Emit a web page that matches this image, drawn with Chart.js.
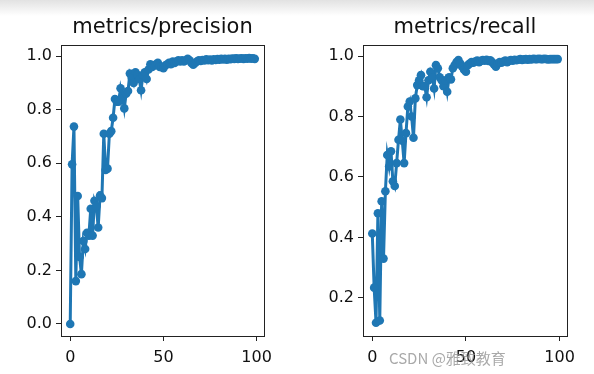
<!DOCTYPE html>
<html>
<head>
<meta charset="utf-8">
<script src="https://cdn.jsdelivr.net/npm/chart.js@4"></script>
<style>
  body { margin: 0; width: 594px; height: 374px; background: #fff; position: relative; overflow: hidden; }
  .shade { position: absolute; left: 0; top: 0; width: 594px; height: 16px; background: linear-gradient(#e2e2e2, #fff); }
  .box { position: absolute; top: 0; height: 374px; }
  .wm { position: absolute; left: 389px; top: 347px; font: 15px "Noto Sans CJK SC", sans-serif; color: rgba(140,140,140,0.75); white-space: nowrap; }
</style>
</head>
<body>
<div class="shade"></div>
<div class="box" style="left:0;width:297px"><canvas id="precChart"></canvas></div>
<div class="box" style="left:297px;width:297px"><canvas id="recChart"></canvas></div>
<span class="wm">CSDN @雅致教育</span>

<script>
// --- data ---
const epochs = Array.from({ length: 100 }, (_, i) => i);

const precision = [
  0.0, 0.596, 0.737, 0.16, 0.478, 0.25, 0.186, 0.31, 0.28, 0.34,
  0.33, 0.43, 0.33, 0.46, 0.44, 0.36, 0.48, 0.47, 0.71, 0.575,
  0.58, 0.71, 0.72, 0.77, 0.84, 0.83, 0.83, 0.88, 0.85, 0.805,
  0.86, 0.87, 0.935, 0.92, 0.9, 0.94, 0.93, 0.915, 0.873, 0.93,
  0.94, 0.915, 0.95, 0.97, 0.96, 0.965, 0.97, 0.975, 0.96, 0.96,
  0.955, 0.965, 0.97, 0.975, 0.97, 0.98, 0.975, 0.98, 0.985, 0.98,
  0.985, 0.98, 0.985, 0.99, 0.985, 0.975, 0.968, 0.975, 0.98, 0.985,
  0.982, 0.986, 0.984, 0.988, 0.985, 0.987, 0.984, 0.988, 0.986, 0.989,
  0.987, 0.99, 0.988, 0.99, 0.987, 0.99, 0.989, 0.991, 0.99, 0.992,
  0.99, 0.991, 0.992, 0.99, 0.992, 0.991, 0.993, 0.991, 0.992, 0.99
];

const recall = [
  0.413, 0.234, 0.118, 0.48, 0.125, 0.52, 0.33, 0.553, 0.673, 0.635,
  0.685, 0.586, 0.57, 0.646, 0.723, 0.79, 0.72, 0.646, 0.745, 0.833,
  0.85, 0.8, 0.73, 0.86, 0.904, 0.92, 0.937, 0.9, 0.9, 0.864,
  0.92, 0.948, 0.93, 0.893, 0.97, 0.96, 0.93, 0.92, 0.9, 0.92,
  0.882, 0.93, 0.923, 0.96, 0.97, 0.98, 0.987, 0.975, 0.965, 0.955,
  0.948, 0.97, 0.975, 0.98, 0.978, 0.982, 0.985, 0.98, 0.984, 0.987,
  0.985, 0.988, 0.984, 0.986, 0.98, 0.972, 0.965, 0.975, 0.98, 0.978,
  0.982, 0.985, 0.98, 0.984, 0.987, 0.985, 0.988, 0.986, 0.988, 0.99,
  0.987, 0.989, 0.99, 0.988, 0.99, 0.989, 0.991, 0.99, 0.99, 0.991,
  0.99, 0.99, 0.991, 0.99, 0.989, 0.99, 0.99, 0.99, 0.99, 0.99
];

const xTicks = [0, 50, 100];
const precTicks = [0.0, 0.2, 0.4, 0.6, 0.8, 1.0];
const recTicks = [0.2, 0.4, 0.6, 0.8, 1.0];

const blue = '#1f77b4';
const font = 'DejaVu Sans';

// frame around the plot area (matplotlib style)
const frame = {
  id: 'frame',
  afterDraw(chart) {
    const { ctx, chartArea: a } = chart;
    ctx.save();
    ctx.strokeStyle = '#222';
    ctx.lineWidth = 1;
    ctx.strokeRect(Math.round(a.left) + 0.5, Math.round(a.top) + 0.5, Math.round(a.right - a.left), Math.round(a.bottom - a.top));
    ctx.restore();
  }
};

function makeChart(id, title, values, yTicks, yMin, yMax, yWidth, padRight) {
  const ctx = document.getElementById(id).getContext('2d');
  return new Chart(ctx, {
    type: 'line',
    data: {
      datasets: [{
        data: epochs.map((e, i) => ({ x: e, y: values[i] })),
        borderColor: blue,
        backgroundColor: blue,
        borderWidth: 3,
        pointRadius: 4.3,
        pointBorderWidth: 0,
        pointBackgroundColor: blue,
        tension: 0,
      }]
    },
    options: {
      responsive: true,
      maintainAspectRatio: false,
      animation: false,
      layout: { padding: { left: 0, right: padRight, top: 0, bottom: 0 } },
      plugins: {
        legend: { display: false },
        tooltip: { enabled: false },
        title: {
          display: true,
          text: title,
          fullSize: false,
          color: '#111',
          font: { family: font, size: 21, weight: 'normal', lineHeight: 1.2 },
          padding: { top: 15, bottom: 5 },
        },
      },
      scales: {
        x: {
          type: 'linear',
          min: -4.95,
          max: 103.95,
          afterBuildTicks: s => { s.ticks = xTicks.map(v => ({ value: v })); },
          afterFit: s => { s.height = 38; },
          grid: { drawOnChartArea: false, drawTicks: true, tickLength: 5, tickColor: '#222' },
          border: { display: false },
          ticks: { color: '#111', font: { family: font, size: 16 }, padding: 7, maxRotation: 0 },
        },
        y: {
          min: yMin,
          max: yMax,
          afterBuildTicks: s => { s.ticks = yTicks.map(v => ({ value: v })); },
          afterFit: s => { s.width = yWidth; },
          grid: { drawOnChartArea: false, drawTicks: true, tickLength: 5, tickColor: '#222' },
          border: { display: false },
          ticks: { color: '#111', font: { family: font, size: 16 }, padding: 4, callback: v => v.toFixed(1) },
        },
      },
    },
    plugins: [frame],
  });
}

makeChart('precChart', 'metrics/precision', precision, precTicks, -0.045, 1.041, 61, 33);
makeChart('recChart', 'metrics/recall', recall, recTicks, 0.074, 1.036, 66, 27);
</script>
</body>
</html>
